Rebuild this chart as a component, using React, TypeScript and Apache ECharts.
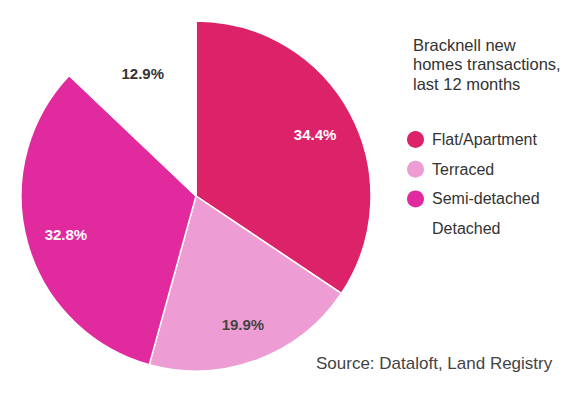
import React, { useEffect, useRef } from "react";
import * as echarts from "echarts";

const categories = ["Flat/Apartment", "Terraced", "Semi-detached", "Detached"];
const values = [34.4, 19.9, 32.8, 12.9];
const colors = ["#dc2268", "#ee9dd4", "#e22a9f", "#ffffff"];
const labelColors = ["#ffffff", "#444444", "#ffffff", "#333333"];
const titleText = "Bracknell new\nhomes transactions,\nlast 12 months";
const sourceText = "Source: Dataloft, Land Registry";

const FONT = "'Liberation Sans', Arial, Helvetica, sans-serif";

export default function App() {
  const ref = useRef<HTMLDivElement>(null);
  useEffect(() => {
    if (!ref.current) return;
    const chart = echarts.init(ref.current, undefined, { renderer: "svg" });
    const baseData = categories.map((name, i) => ({
      name,
      value: values[i],
      itemStyle: { color: colors[i] },
    }));
    const labelData = categories.map((name, i) => ({
      name,
      value: values[i],
      itemStyle: { color: "rgba(0,0,0,0)", borderWidth: 0 },
      label: { color: labelColors[i] },
    }));
    chart.setOption({
      animation: false,
      backgroundColor: "#ffffff",
      title: [
        {
          text: titleText,
          left: 408,
          top: 30,
          textStyle: {
            fontSize: 16.5,
            fontWeight: "normal",
            color: "#333333",
            lineHeight: 19.5,
            fontFamily: FONT,
          },
        },
        {
          text: sourceText,
          left: 311,
          top: 350,
          textStyle: {
            fontSize: 17,
            fontWeight: "normal",
            color: "#444444",
            fontFamily: FONT,
          },
        },
      ],
      legend: {
        orient: "vertical",
        left: 402,
        top: 126,
        icon: "circle",
        itemWidth: 17,
        itemHeight: 17,
        itemGap: 12.7,
        selectedMode: false,
        data: categories.map((name, i) => ({
          name,
          itemStyle: { color: colors[i], borderWidth: 0 },
        })),
        textStyle: {
          fontSize: 16,
          color: "#333333",
          lineHeight: 17,
          padding: [0, 0, 0, 3],
          fontFamily: FONT,
        },
      },
      series: [
        {
          type: "pie",
          center: [196, 196],
          radius: [0, 175],
          startAngle: 90,
          clockwise: true,
          silent: true,
          label: { show: false },
          labelLine: { show: false },
          itemStyle: { borderColor: "#ffffff", borderWidth: 1.5 },
          data: baseData,
        },
        {
          type: "pie",
          center: [196, 198],
          radius: [89, 175],
          startAngle: 90,
          clockwise: true,
          silent: true,
          legendHoverLink: false,
          label: {
            show: true,
            position: "inside",
            formatter: "{c}%",
            fontSize: 15,
            fontWeight: "bold",
            fontFamily: FONT,
          },
          labelLine: { show: false },
          data: labelData,
        },
      ],
    });
    return () => chart.dispose();
  }, []);
  return (
    <div
      ref={ref}
      style={{ position: "fixed", left: 0, top: 0, width: 582, height: 395 }}
    />
  );
}
